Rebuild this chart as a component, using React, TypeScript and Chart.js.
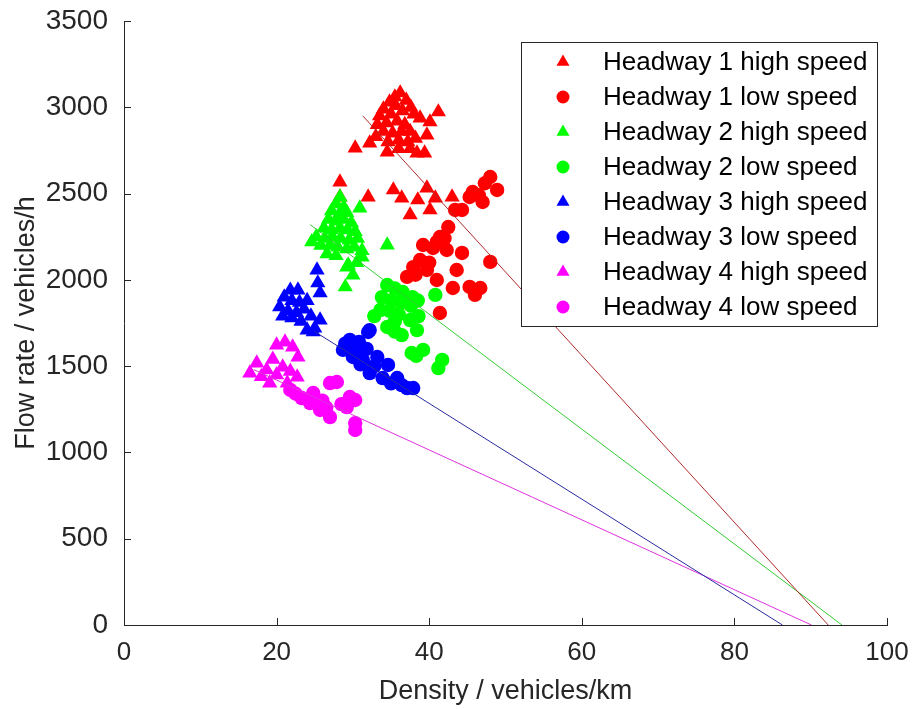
import React, { useEffect, useRef } from "react";
import { Chart, registerables } from "chart.js";

Chart.register(...registerables);

// Axis ticks
const xTicks = [0, 20, 40, 60, 80, 100];
const yTicks = [0, 500, 1000, 1500, 2000, 2500, 3000, 3500];

// Series metadata
const seriesLabels = [
  "Headway 1 high speed",
  "Headway 1 low speed",
  "Headway 2 high speed",
  "Headway 2 low speed",
  "Headway 3 high speed",
  "Headway 3 low speed",
  "Headway 4 high speed",
  "Headway 4 low speed",
];
const seriesColors = ["#ff0000", "#ff0000", "#00ff00", "#00ff00", "#0000ff", "#0000ff", "#ff00ff", "#ff00ff"];
const seriesShapes = ["triangle", "circle", "triangle", "circle", "triangle", "circle", "triangle", "circle"];

// Observations: [density (vehicles/km), flow rate (vehicles/h)]
const h1High: number[][] = [
  [35.5, 3060], [36.2, 3083], [34.8, 3030], [35.6, 3010], [37.0, 3040], [34.0, 2990], [33.5, 2950],
  [35.0, 2960], [36.5, 2980], [37.6, 3000], [38.0, 2960], [33.2, 2900], [34.4, 2910], [35.8, 2920],
  [36.8, 2900], [34.0, 2860], [35.2, 2850], [36.4, 2860], [37.5, 2860], [33.0, 2830], [34.6, 2800],
  [36.0, 2810], [37.2, 2800], [38.2, 2820], [41.2, 2973], [38.8, 2938], [40.1, 2915], [39.7, 2839],
  [30.3, 2764], [32.2, 2793], [34.5, 2741], [36.0, 2760], [38.4, 2735], [39.4, 2735], [37.5, 2760],
  [28.3, 2567], [28.3, 2480], [32.0, 2480], [35.3, 2521], [36.4, 2474], [37.5, 2376], [38.5, 2463],
  [39.7, 2532], [40.1, 2405], [40.8, 2474], [43.0, 2480],
];
const h1Low: number[][] = [
  [48.0, 2596], [48.9, 2521], [47.3, 2560], [45.7, 2509], [47.0, 2451], [45.3, 2480], [46.5, 2490],
  [43.4, 2405], [44.3, 2405], [42.5, 2306], [41.4, 2248], [39.2, 2202], [40.5, 2185], [42.3, 2173],
  [41.0, 2220], [38.8, 2115], [37.9, 2074], [39.7, 2057], [40.0, 2100], [37.1, 2017], [41.0, 1999],
  [44.3, 2156], [43.6, 2057], [48.0, 2104], [43.1, 1953], [45.3, 1959], [46.7, 1953], [46.0, 1913],
  [41.4, 1808], [42.0, 2240], [38.2, 2030],
];
const h2High: number[][] = [
  [28.3, 2480], [27.8, 2440], [28.8, 2420], [27.2, 2400], [28.2, 2380], [29.2, 2390], [30.9, 2416],
  [26.8, 2350], [27.8, 2340], [28.8, 2350], [29.8, 2330], [26.2, 2300], [27.2, 2290], [28.3, 2300],
  [29.3, 2290], [30.3, 2280], [25.2, 2250], [26.3, 2240], [27.3, 2250], [28.4, 2240], [29.5, 2230],
  [30.6, 2240], [24.6, 2220], [25.8, 2200], [27.0, 2200], [28.0, 2190], [29.2, 2180], [30.2, 2190],
  [31.2, 2170], [26.6, 2150], [27.8, 2140], [34.5, 2202], [29.4, 2086], [30.0, 2028], [29.0, 1959],
  [29.2, 2074], [31.2, 2132], [30.5, 2100],
];
const h2Low: number[][] = [
  [34.5, 1970], [35.5, 1950], [36.5, 1930], [37.8, 1900], [33.8, 1900], [35.0, 1880], [36.3, 1870],
  [37.6, 1850], [38.5, 1880], [33.6, 1825], [34.8, 1820], [36.0, 1800], [37.5, 1767], [38.6, 1790],
  [32.8, 1790], [34.5, 1727], [35.5, 1760], [36.4, 1680], [38.4, 1709], [37.7, 1576], [39.2, 1594],
  [41.7, 1536], [41.2, 1489], [40.8, 1913], [38.3, 1560], [35.5, 1700],
];
const h3High: number[][] = [
  [25.3, 2057], [25.4, 1982], [25.7, 1924], [25.7, 1767], [24.8, 1698], [24.0, 1709], [22.8, 1941],
  [20.4, 1843], [21.0, 1900], [22.0, 1880], [23.0, 1870], [21.5, 1820], [22.6, 1810], [23.6, 1830],
  [20.8, 1790], [22.0, 1780], [23.2, 1760], [24.5, 1790], [25.0, 1720], [24.0, 1880], [21.8, 1940],
];
const h3Low: number[][] = [
  [29.6, 1652], [32.0, 1698], [28.7, 1594], [30.5, 1594], [31.3, 1536], [33.2, 1553], [34.6, 1507],
  [32.2, 1460], [33.9, 1431], [35.8, 1431], [37.1, 1373], [37.9, 1373], [30.0, 1553], [32.2, 1709],
  [29.0, 1630], [30.8, 1640], [31.8, 1600], [32.8, 1500], [35.0, 1400], [36.4, 1390], [31.0, 1510],
];
const h4High: number[][] = [
  [20.0, 1622], [21.1, 1640], [22.1, 1611], [22.8, 1553], [17.4, 1518], [16.5, 1460], [18.7, 1478],
  [19.5, 1540], [20.8, 1495], [22.7, 1437], [19.1, 1402], [21.4, 1402], [18.0, 1440], [20.0, 1450],
  [21.8, 1470],
];
const h4Low: number[][] = [
  [21.8, 1362], [23.3, 1315], [24.4, 1286], [27.0, 1402], [27.9, 1408], [25.7, 1246], [27.0, 1205],
  [29.6, 1321], [30.3, 1304], [29.2, 1263], [30.3, 1170], [30.3, 1130], [24.8, 1344], [26.0, 1300],
  [22.5, 1340], [28.5, 1280], [26.5, 1260],
];

// Fitted flow-density lines (start, jam density at zero flow)
const fitH1: number[][] = [[31.3, 2950], [92.3, 0]];
const fitH2: number[][] = [[24.4, 2320], [94.1, 0]];
const fitH3: number[][] = [[25.0, 1700], [86.3, 0]];
const fitH4: number[][] = [[17.0, 1480], [90.1, 0]];
const fitColors = ["#b02a2a", "#33cc33", "#2a2aa0", "#dd33dd"];

const seriesData = [h1High, h1Low, h2High, h2Low, h3High, h3Low, h4High, h4Low];
const fitData = [fitH1, fitH2, fitH3, fitH4];

const FONT = "'Liberation Sans', Arial, Helvetica, sans-serif";
const AXIS_COLOR = "#262626";

function drawMarker(ctx: CanvasRenderingContext2D, shape: string, x: number, y: number, r: number, color: string) {
  ctx.save();
  ctx.fillStyle = color;
  ctx.beginPath();
  if (shape === "triangle") {
    const s = Math.sin(Math.PI / 3) * r;
    ctx.moveTo(x, y - r);
    ctx.lineTo(x + s, y + r / 2);
    ctx.lineTo(x - s, y + r / 2);
    ctx.closePath();
  } else {
    ctx.arc(x, y, r, 0, Math.PI * 2);
  }
  ctx.fill();
  ctx.restore();
}

// Inward tick marks on both axes
const innerTicks = {
  id: "innerTicks",
  afterDatasetsDraw(chart: any) {
    const { ctx, chartArea, scales } = chart;
    ctx.save();
    ctx.strokeStyle = AXIS_COLOR;
    ctx.lineWidth = 1;
    xTicks.forEach((v) => {
      const px = Math.round(scales.x.getPixelForValue(v)) + 0.5;
      ctx.beginPath();
      ctx.moveTo(px, chartArea.bottom);
      ctx.lineTo(px, chartArea.bottom - 7);
      ctx.stroke();
    });
    yTicks.forEach((v) => {
      const py = Math.round(scales.y.getPixelForValue(v)) + 0.5;
      ctx.beginPath();
      ctx.moveTo(chartArea.left, py);
      ctx.lineTo(chartArea.left + 7, py);
      ctx.stroke();
    });
    ctx.restore();
  },
};

// Boxed legend in the upper right of the plot area
const boxLegend = {
  id: "boxLegend",
  afterDraw(chart: any) {
    const { ctx } = chart;
    const left = 521.5;
    const top = 42.5;
    const w = 356;
    const h = 284;
    ctx.save();
    ctx.fillStyle = "#ffffff";
    ctx.fillRect(left, top, w, h);
    ctx.strokeStyle = AXIS_COLOR;
    ctx.lineWidth = 1;
    ctx.strokeRect(left, top, w, h);
    ctx.font = `26px ${FONT}`;
    ctx.textBaseline = "middle";
    ctx.textAlign = "left";
    seriesLabels.forEach((label, i) => {
      const y = top + 19.5 + i * 35;
      drawMarker(ctx, seriesShapes[i], 563, y, seriesShapes[i] === "triangle" ? 7.5 : 6.5, seriesColors[i]);
      ctx.fillStyle = "#000000";
      ctx.fillText(label, 603, y + 1);
    });
    ctx.restore();
  },
};

export default function App() {
  const canvasRef = useRef<HTMLCanvasElement | null>(null);

  useEffect(() => {
    if (!canvasRef.current) return;
    const scatterSets = seriesData.map((pts, i) => ({
      label: seriesLabels[i],
      data: pts.map(([x, y]) => ({ x, y })),
      showLine: false,
      pointStyle: seriesShapes[i],
      pointRadius: seriesShapes[i] === "triangle" ? 8.8 : 7.2,
      pointBackgroundColor: seriesColors[i],
      pointBorderColor: seriesColors[i],
      pointBorderWidth: 0,
      order: 10 - i,
    }));
    const lineSets = fitData.map((pts, i) => ({
      label: `fit ${i + 1}`,
      data: pts.map(([x, y]) => ({ x, y })),
      showLine: true,
      borderColor: fitColors[i],
      borderWidth: 1,
      pointRadius: 0,
      fill: false,
      order: 0,
    }));

    const chart = new Chart(canvasRef.current, {
      type: "scatter",
      data: { datasets: [...lineSets, ...scatterSets] as any },
      options: {
        animation: false,
        responsive: false,
        maintainAspectRatio: false,
        layout: { padding: { top: 21, right: 34, left: 0, bottom: 0 } },
        plugins: { legend: { display: false }, tooltip: { enabled: false } },
        scales: {
          x: {
            type: "linear",
            min: 0,
            max: 100,
            afterFit: (scale: any) => {
              scale.height = 85;
              scale.paddingLeft = 0;
              scale.paddingRight = 0;
            },
            afterBuildTicks: (scale: any) => {
              scale.ticks = xTicks.map((v) => ({ value: v }));
            },
            grid: { display: true, drawOnChartArea: false, drawTicks: false },
            border: { display: true, color: AXIS_COLOR, width: 1 },
            ticks: {
              color: AXIS_COLOR,
              font: { family: FONT, size: 26 },
              padding: 12,
              maxRotation: 0,
              callback: (v: any) => String(v),
            },
            title: {
              display: true,
              text: "Density / vehicles/km",
              color: AXIS_COLOR,
              font: { family: FONT, size: 27 },
              padding: { top: 0, bottom: 2 },
            },
          },
          y: {
            type: "linear",
            min: 0,
            max: 3500,
            afterFit: (scale: any) => {
              scale.width = 124;
              scale.paddingTop = 0;
              scale.paddingBottom = 0;
            },
            afterBuildTicks: (scale: any) => {
              scale.ticks = yTicks.map((v) => ({ value: v }));
            },
            grid: { display: true, drawOnChartArea: false, drawTicks: false },
            border: { display: true, color: AXIS_COLOR, width: 1 },
            ticks: {
              color: AXIS_COLOR,
              font: { family: FONT, size: 28 },
              padding: 16,
              callback: (v: any) => String(v),
            },
            title: {
              display: true,
              text: "Flow rate / vehicles/h",
              color: AXIS_COLOR,
              font: { family: FONT, size: 27 },
              padding: { top: 10, bottom: 0 },
            },
          },
        },
      } as any,
      plugins: [innerTicks, boxLegend],
    });
    return () => chart.destroy();
  }, []);

  return (
    <div style={{ position: "absolute", left: 0, top: 0, width: 921, height: 710, background: "#ffffff" }}>
      <canvas ref={canvasRef} width={921} height={710} />
    </div>
  );
}
